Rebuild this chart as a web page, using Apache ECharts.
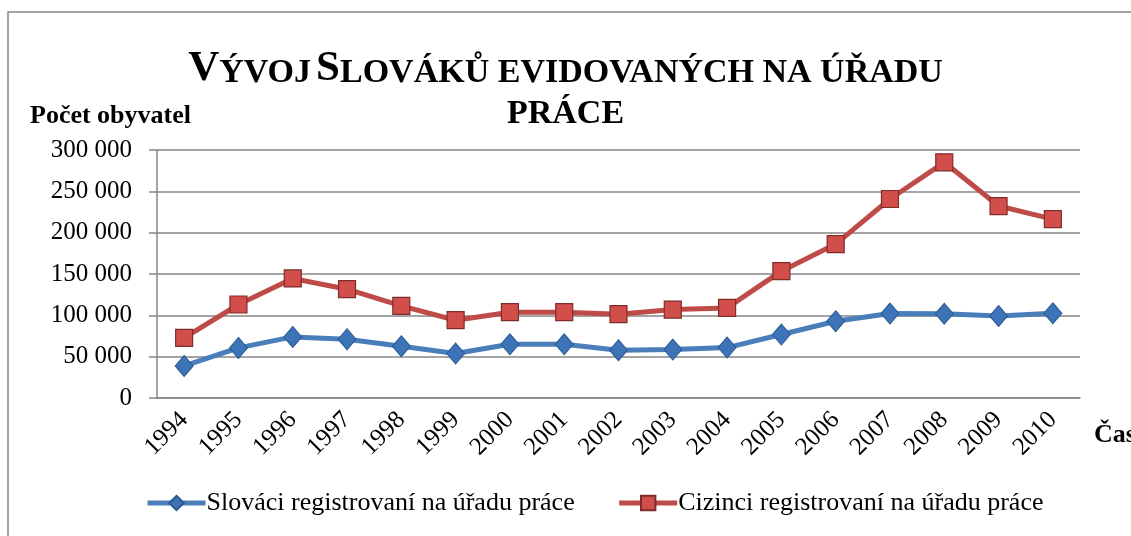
<!DOCTYPE html>
<html>
<head>
<meta charset="utf-8">
<script src="https://cdn.jsdelivr.net/npm/echarts@6/dist/echarts.min.js"></script>
<style>
  html, body { margin: 0; padding: 0; background: #fff; }
  #container { width: 1131px; height: 536px; }
</style>
</head>
<body>
<div id="container"></div>
<script>
var years = ['1994', '1995', '1996', '1997', '1998', '1999', '2000', '2001', '2002',
  '2003', '2004', '2005', '2006', '2007', '2008', '2009', '2010'];
var slovaci = [38800, 60600, 73900, 71100, 62600, 53800, 65000, 65000, 57800,
  58600, 61000, 76800, 92900, 102200, 101800, 99300, 102600];
var cizinci = [72700, 113100, 144600, 131600, 111400, 94100, 103800, 103800, 101400,
  107000, 109000, 153400, 186200, 240700, 285100, 232200, 216400];
var seriesNames = ['Slováci registrovaní na úřadu práce', 'Cizinci registrovaní na úřadu práce'];

var serif = 'Liberation Serif';
var gray = '#868686';

var dom = document.getElementById('container');
var myChart = echarts.init(dom);

function spaced(v) {
  return String(v).replace(/\B(?=(\d{3})+(?!\d))/g, ' ');
}

myChart.setOption({
  animation: false,
  graphic: [{
    type: 'rect',
    shape: { x: 8, y: 12, width: 1140, height: 540 },
    style: { fill: 'none', stroke: gray, lineWidth: 1.5 }
  }],
  title: [{
    // small caps made with two sizes
    text: '{b|V}{s|ÝVOJ} {b|S}{s|LOVÁKŮ EVIDOVANÝCH NA ÚŘADU}',
    left: 'center',
    top: 41,
    textStyle: {
      rich: {
        b: { fontFamily: serif, fontWeight: 'bold', fontSize: 43, color: '#000', verticalAlign: 'bottom', lineHeight: 44 },
        s: { fontFamily: serif, fontWeight: 'bold', fontSize: 34, color: '#000', verticalAlign: 'bottom', lineHeight: 44 }
      }
    }
  }, {
    text: 'PRÁCE',
    left: 'center',
    top: 92,
    textStyle: { fontFamily: serif, fontWeight: 'bold', fontSize: 34, color: '#000' }
  }, {
    text: 'Počet obyvatel',
    left: 25,
    top: 98,
    textStyle: { fontFamily: serif, fontWeight: 'bold', fontSize: 26, color: '#000' }
  }, {
    text: 'Čas',
    left: 1089,
    top: 417,
    textStyle: { fontFamily: serif, fontWeight: 'bold', fontSize: 26, color: '#000' }
  }],
  legend: {
    bottom: 15,
    left: 140,
    itemWidth: 58,
    itemHeight: 18,
    itemGap: 42,
    data: seriesNames,
    lineStyle: { width: 5 },
    textStyle: { fontFamily: serif, fontSize: 26, color: '#000', padding: [0, 0, 0, -4] }
  },
  grid: { left: 157, right: 51, top: 150, bottom: 138 },
  xAxis: {
    type: 'category',
    data: years,
    boundaryGap: true,
    axisLine: { lineStyle: { color: gray, width: 1.5 } },
    axisTick: { length: 8, lineStyle: { color: gray, width: 1.5 } },
    axisLabel: { rotate: 45, margin: 18, fontFamily: serif, fontSize: 25, color: '#000' }
  },
  yAxis: {
    type: 'value',
    min: 0,
    max: 300000,
    interval: 50000,
    axisLine: { show: true, lineStyle: { color: gray, width: 1.5 } },
    axisTick: { show: true, length: 8, lineStyle: { color: gray, width: 1.5 } },
    splitLine: { lineStyle: { color: gray, width: 1.5 } },
    axisLabel: {
      margin: 25,
      fontFamily: serif,
      fontSize: 25,
      color: '#000',
      formatter: spaced
    }
  },
  series: [{
    name: seriesNames[0],
    type: 'line',
    data: slovaci,
    symbol: 'diamond',
    symbolSize: [18, 21],
    lineStyle: { color: '#4a7ebb', width: 5 },
    itemStyle: { color: '#3d74b8', borderColor: '#2a5a93', borderWidth: 1 },
    z: 3
  }, {
    name: seriesNames[1],
    type: 'line',
    data: cizinci,
    symbol: 'rect',
    symbolSize: 17,
    lineStyle: { color: '#be4b48', width: 5 },
    itemStyle: { color: '#d24e4b', borderColor: '#7f2d2b', borderWidth: 1.2 },
    z: 2
  }]
});
</script>
</body>
</html>
